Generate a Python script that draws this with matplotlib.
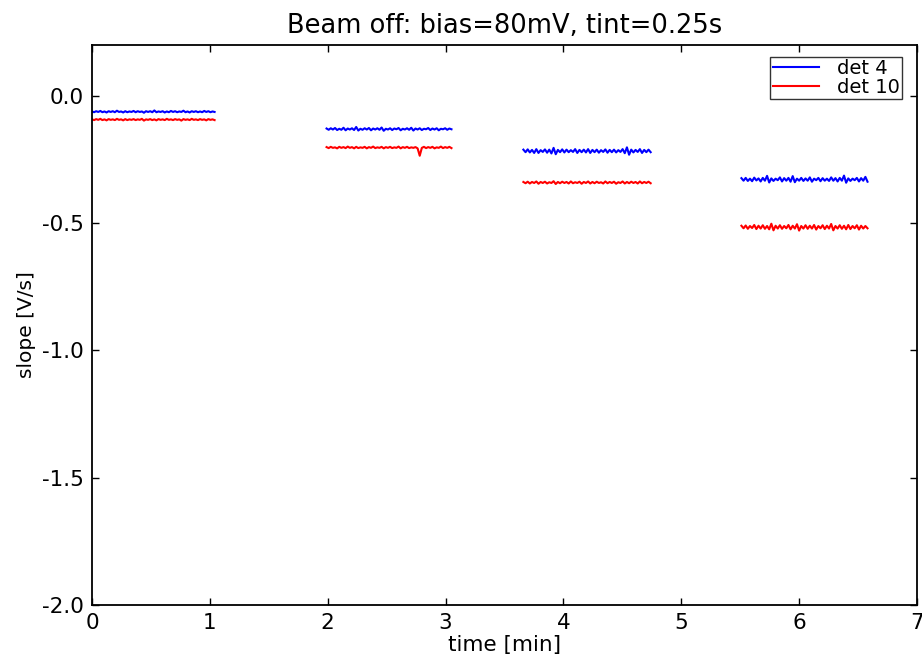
import numpy as np
import matplotlib
matplotlib.use("Agg")
import matplotlib.pyplot as plt

# Segment time spans [min]
seg_starts = [0.0, 1.99, 3.66, 5.51]
seg_ends = [1.04, 3.05, 4.74, 6.58]

# det 4 slope values, in mV/s (converted to V/s when plotted)
det4_s1_mVs = [-61,-64,-60,-63,-59,-64,-61,-65,-60,-63, -60,-64,-58,-63,-61,-65,-60,-64,-61,-63,
               -59,-64,-60,-63,-61,-66,-60,-63,-60,-64, -57,-64,-61,-63,-60,-65,-61,-64,-59,-63,
               -60,-64,-61,-63,-58,-64,-61,-65,-60,-63, -60,-64,-61,-64,-59,-63,-60,-64,-61,-63]
det4_s2_mVs = [-128,-133,-127,-132,-126,-134,-129,-133,-125,-135, -128,-132,-127,-134,-122,-136,-129,-133,-127,-132,
               -126,-135,-128,-132,-127,-133,-124,-137,-129,-132, -127,-134,-128,-131,-126,-135,-129,-132,-127,-133,
               -125,-136,-128,-132,-127,-134,-129,-131,-126,-134, -128,-132,-127,-135,-129,-131,-127,-133,-128,-131]
det4_s3_mVs = [-211,-221,-210,-222,-212,-224,-209,-224,-213,-220, -210,-223,-211,-226,-204,-229,-212,-221,-210,-222,
               -211,-221,-213,-220,-209,-224,-212,-221,-211,-222, -209,-224,-212,-221,-211,-223,-213,-220,-210,-223,
               -212,-221,-211,-222,-213,-220,-209,-225,-202,-231, -211,-222,-212,-220,-209,-224,-212,-221,-211,-221]
det4_s4_mVs = [-323,-333,-322,-334,-325,-335,-321,-332,-324,-336, -322,-333,-314,-340,-324,-334,-325,-331,-320,-336,
               -323,-333,-322,-337,-315,-339,-325,-333,-322,-334, -324,-333,-320,-337,-325,-331,-322,-335,-323,-333,
               -325,-334,-320,-333,-323,-336,-322,-333,-313,-341, -324,-334,-325,-331,-322,-336,-323,-333,-318,-337]

# det 10 slope values, in mV/s
det10_s1_mVs = [-92,-95,-91,-94,-90,-95,-92,-96,-91,-94, -92,-95,-90,-94,-92,-96,-91,-95,-92,-94,
                -91,-95,-92,-94,-90,-97,-92,-94,-91,-95, -92,-96,-91,-94,-92,-95,-90,-94,-92,-95,
                -91,-94,-92,-97,-91,-94,-92,-95,-90,-94, -92,-95,-91,-94,-92,-96,-91,-94,-92,-95]
det10_s2_mVs = [-201,-205,-200,-204,-202,-206,-200,-204,-201,-205, -199,-204,-201,-206,-200,-205,-202,-204,-200,-206,
                -201,-204,-199,-205,-202,-204,-200,-206,-201,-204, -200,-205,-202,-204,-199,-206,-201,-204,-200,-205,
                -202,-204,-201,-206,-235,-204,-200,-205,-201,-204, -200,-206,-202,-204,-199,-205,-201,-204,-200,-205]
det10_s3_mVs = [-338,-343,-337,-344,-338,-342,-336,-345,-338,-342, -337,-344,-339,-342,-335,-346,-338,-343,-337,-342,
                -338,-344,-336,-343,-339,-342,-337,-345,-338,-342, -336,-344,-338,-343,-337,-342,-339,-344,-336,-343,
                -338,-342,-337,-345,-339,-342,-336,-344,-338,-343, -337,-342,-338,-344,-336,-343,-338,-342,-337,-343]
det10_s4_mVs = [-510,-520,-509,-522,-511,-519,-507,-523,-510,-521, -508,-522,-511,-524,-502,-528,-510,-521,-508,-522,
                -511,-520,-507,-524,-510,-521,-504,-529,-511,-521, -508,-522,-510,-521,-507,-525,-511,-520,-508,-523,
                -510,-521,-503,-528,-511,-521,-508,-522,-510,-524, -507,-523,-511,-520,-508,-525,-510,-521,-511,-520]

det4_segments = [det4_s1_mVs, det4_s2_mVs, det4_s3_mVs, det4_s4_mVs]
det10_segments = [det10_s1_mVs, det10_s2_mVs, det10_s3_mVs, det10_s4_mVs]

x_ticks = [0, 1, 2, 3, 4, 5, 6, 7]
y_ticks = [-2.0, -1.5, -1.0, -0.5, 0.0]

plt.rcParams['font.family'] = ['DejaVu Sans']
fig = plt.figure(figsize=(9.22, 6.65), dpi=100)
ax = fig.add_axes([0.0998, 0.0902, 0.8948, 0.8421])

for i, (s, e) in enumerate(zip(seg_starts, seg_ends)):
    v4 = np.array(det4_segments[i]) / 1000.0
    v10 = np.array(det10_segments[i]) / 1000.0
    t4 = np.linspace(s, e, len(v4))
    t10 = np.linspace(s, e, len(v10))
    ax.plot(t4, v4, color='#0000ff', lw=1.5,
            label='det 4' if i == 0 else None)
    ax.plot(t10, v10, color='#ff0000', lw=1.5,
            label='det 10' if i == 0 else None)

ax.set_xlim(0, 7)
ax.set_ylim(-2.0, 0.2)
ax.set_xticks(x_ticks)
ax.set_yticks(y_ticks)
ax.set_yticklabels([f"{v:.1f}" for v in y_ticks])
ax.tick_params(direction='in', length=5, width=1, top=True, right=True,
               labelsize=15.5, pad=6)
for sp in ax.spines.values():
    sp.set_linewidth(1.3)

ax.set_xlabel('time [min]', fontsize=15.5, labelpad=1)
ax.set_ylabel('slope [V/s]', fontsize=14.5, labelpad=4)
ax.set_title('Beam off: bias=80mV, tint=0.25s', fontsize=18.5, pad=9)

leg = ax.legend(loc='upper right', bbox_to_anchor=(0.996, 1.0),
                fontsize=14, fancybox=False, frameon=True,
                borderaxespad=0.6, handlelength=2.4, borderpad=0.12,
                labelspacing=0.0, handletextpad=0.9)
leg.get_frame().set_edgecolor('black')
leg.get_frame().set_linewidth(1.0)
for ln in leg.get_lines():
    ln.set_linewidth(1.5)

fig.savefig('out.png', dpi=100)
